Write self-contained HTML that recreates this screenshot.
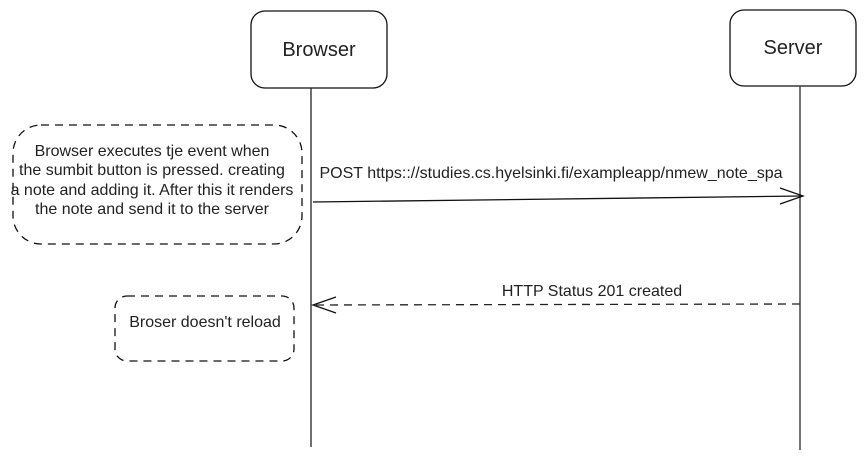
<!DOCTYPE html>
<html><head><meta charset="utf-8"><style>
html,body{margin:0;padding:0;background:#fff;}
svg{display:block;}
text{font-family:"Liberation Sans",Arial,sans-serif;fill:#222;}
</style></head><body>
<svg width="865" height="459" viewBox="0 0 865 459" xmlns="http://www.w3.org/2000/svg">
<rect x="251" y="11" width="136" height="77" rx="14" fill="#fff" stroke="#111" stroke-width="1.3"/>
<text x="319" y="56" font-size="20" text-anchor="middle">Browser</text>
<rect x="730" y="10" width="126" height="76" rx="14" fill="#fff" stroke="#111" stroke-width="1.3"/>
<text x="793" y="54" font-size="20" text-anchor="middle">Server</text>
<line x1="311" y1="88" x2="311" y2="447" stroke="#222" stroke-width="1.3"/>
<line x1="800" y1="86" x2="800" y2="450" stroke="#444" stroke-width="1.5"/>
<rect x="13" y="125" width="289" height="119" rx="28" fill="none" stroke="#111" stroke-width="1.3" stroke-dasharray="8,6"/>
<g font-size="16" text-anchor="middle">
<text x="152" y="156">Browser executes tje event when</text>
<text x="152" y="175">the sumbit button is pressed. creating</text>
<text x="152" y="195">a note and adding it. After this it renders</text>
<text x="152" y="214">the note and send it to the server</text>
</g>
<rect x="115" y="296" width="179" height="65" rx="12" fill="none" stroke="#111" stroke-width="1.3" stroke-dasharray="8,6"/>
<text x="205" y="327" font-size="16" text-anchor="middle">Broser doesn't reload</text>
<text x="551" y="178" font-size="16" text-anchor="middle">POST https:://studies.cs.hyelsinki.fi/exampleapp/nmew_note_spa</text>
<line x1="313" y1="202" x2="803" y2="196" stroke="#111" stroke-width="1.3"/>
<polyline points="780,188 803,196 780,204" fill="none" stroke="#111" stroke-width="1.3"/>
<text x="592" y="296" font-size="16" text-anchor="middle">HTTP Status 201 created</text>
<line x1="800" y1="304" x2="313" y2="305" stroke="#222" stroke-width="1.3" stroke-dasharray="8,6"/>
<polyline points="336,297 313,305 336,313" fill="none" stroke="#111" stroke-width="1.3"/>
</svg>
</body></html>
